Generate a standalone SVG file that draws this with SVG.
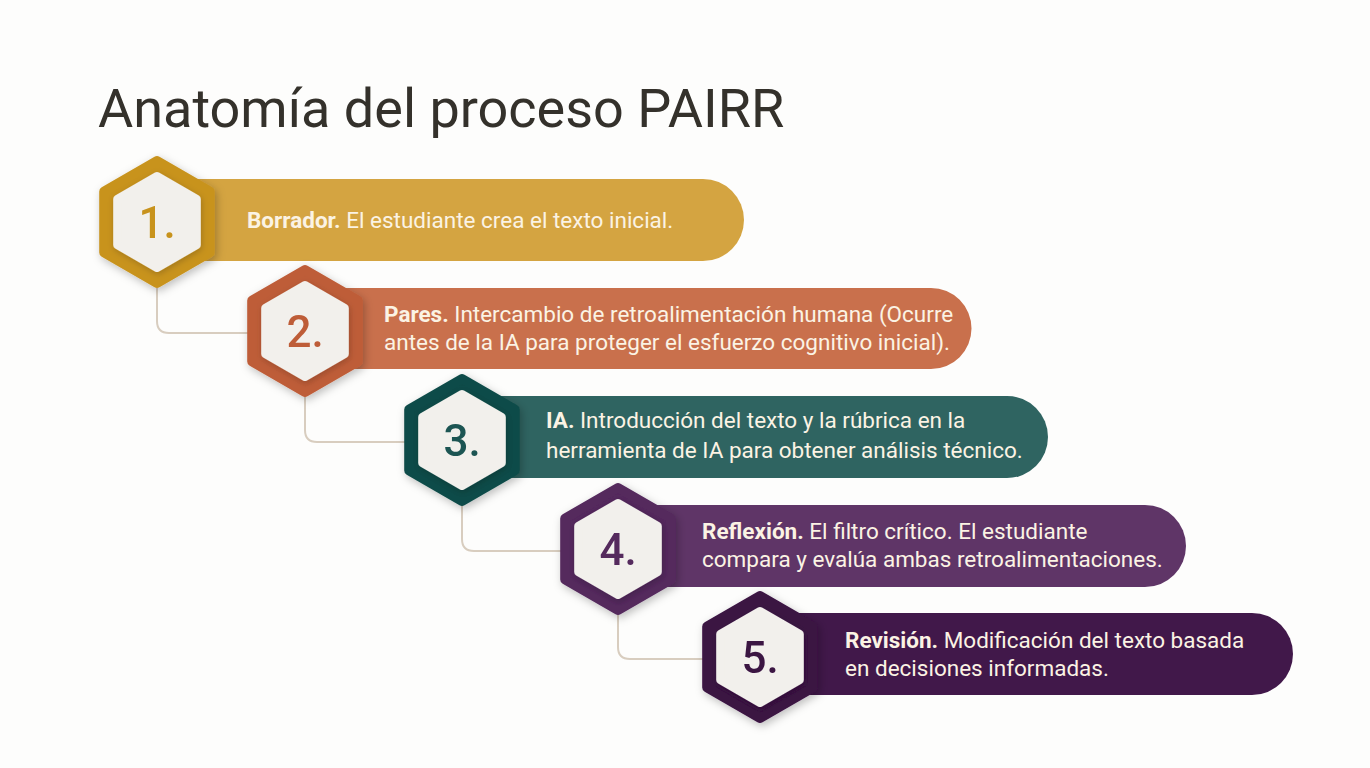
<svg xmlns="http://www.w3.org/2000/svg" width="1370" height="768" viewBox="0 0 1370 768">
<defs>
<style>
.title{font-family:Roboto,"Liberation Sans",sans-serif;font-size:54px;fill:#34312b}
.t{font-family:Roboto,"Liberation Sans",sans-serif;font-size:22.5px;fill:#fbf3e4}
.t tspan.b{font-weight:bold}
.num{font-family:Roboto,"Liberation Sans",sans-serif;font-size:44px;font-weight:500;text-anchor:middle}
.conn{fill:none;stroke:#d8cdbf;stroke-width:2}
.inner{fill:#f2f0ec;stroke:#f2f0ec;stroke-width:8;stroke-linejoin:round}
</style>
<filter id="sh" x="-30%" y="-30%" width="160%" height="160%">
<feDropShadow dx="2" dy="3" stdDeviation="4" flood-color="#000" flood-opacity="0.25"/>
</filter>
<filter id="sh2" x="-30%" y="-30%" width="160%" height="160%">
<feDropShadow dx="1" dy="2" stdDeviation="3" flood-color="#000" flood-opacity="0.2"/>
</filter>
<polygon id="hexO" points="0,-61 52.8,-30.5 52.8,30.5 0,61 -52.8,30.5 -52.8,-30.5"/>
<polygon id="hexI" points="0,-46 39.8,-23 39.8,23 0,46 -39.8,23 -39.8,-23"/>
</defs>
<rect width="1370" height="768" fill="#fdfdfc"/>
<text class="title" x="98" y="127">Anatomía del proceso PAIRR</text>

<g id="connectors">
<path class="conn" d="M157,288 V321 Q157,333 169,333 H250"/>
<path class="conn" d="M305,396 V430 Q305,442 317,442 H406"/>
<path class="conn" d="M462,505 V539 Q462,551 474,551 H562"/>
<path class="conn" d="M618,614 V647 Q618,659 630,659 H706"/>
</g>

<g id="node1">
<path d="M157,179 H703 A41,41 0 0 1 703,261 H157 Z" fill="#d4a441"/>
<g transform="translate(157,222)" filter="url(#sh)">
<use href="#hexO" fill="#c8931f" stroke="#c8931f" stroke-width="10" stroke-linejoin="round"/>
<use href="#hexI" class="inner" filter="url(#sh2)"/>
<text class="num" y="16" fill="#c8931f">1.</text>
</g>
<text class="t" x="247" y="228"><tspan class="b">Borrador.</tspan> El estudiante crea el texto inicial.</text>
</g>

<g id="node2">
<path d="M305,288 H931 A40.5,40.5 0 0 1 931,369 H305 Z" fill="#c9704c"/>
<g transform="translate(305,331)" filter="url(#sh)">
<use href="#hexO" fill="#be5d38" stroke="#be5d38" stroke-width="10" stroke-linejoin="round"/>
<use href="#hexI" class="inner" filter="url(#sh2)"/>
<text class="num" y="16" fill="#be5d38">2.</text>
</g>
<text class="t" x="384" y="322"><tspan class="b">Pares.</tspan> Intercambio de retroalimentación humana (Ocurre</text>
<text class="t" x="384" y="350">antes de la IA para proteger el esfuerzo cognitivo inicial).</text>
</g>

<g id="node3">
<path d="M462,396 H1007 A41,41 0 0 1 1007,478 H462 Z" fill="#2f6461"/>
<g transform="translate(462,440)" filter="url(#sh)">
<use href="#hexO" fill="#0e4b48" stroke="#0e4b48" stroke-width="10" stroke-linejoin="round"/>
<use href="#hexI" class="inner" filter="url(#sh2)"/>
<text class="num" y="16" fill="#1e5552">3.</text>
</g>
<text class="t" x="546" y="428"><tspan class="b">IA.</tspan> Introducción del texto y la rúbrica en la</text>
<text class="t" x="546" y="458">herramienta de IA para obtener análisis técnico.</text>
</g>

<g id="node4">
<path d="M618,505 H1145 A41,41 0 0 1 1145,587 H618 Z" fill="#5f3567"/>
<g transform="translate(618,549)" filter="url(#sh)">
<use href="#hexO" fill="#54295d" stroke="#54295d" stroke-width="10" stroke-linejoin="round"/>
<use href="#hexI" class="inner" filter="url(#sh2)"/>
<text class="num" y="16" fill="#54295d">4.</text>
</g>
<text class="t" x="702" y="539"><tspan class="b">Reflexión.</tspan> El filtro crítico. El estudiante</text>
<text class="t" x="702" y="567">compara y evalúa ambas retroalimentaciones.</text>
</g>

<g id="node5">
<path d="M760,613 H1252 A41,41 0 0 1 1252,695 H760 Z" fill="#41184a"/>
<g transform="translate(760,657)" filter="url(#sh)">
<use href="#hexO" fill="#3b1343" stroke="#3b1343" stroke-width="10" stroke-linejoin="round"/>
<use href="#hexI" class="inner" filter="url(#sh2)"/>
<text class="num" y="16" fill="#3b1343">5.</text>
</g>
<text class="t" x="845" y="648"><tspan class="b">Revisión.</tspan> Modificación del texto basada</text>
<text class="t" x="845" y="676">en decisiones informadas.</text>
</g>
</svg>
